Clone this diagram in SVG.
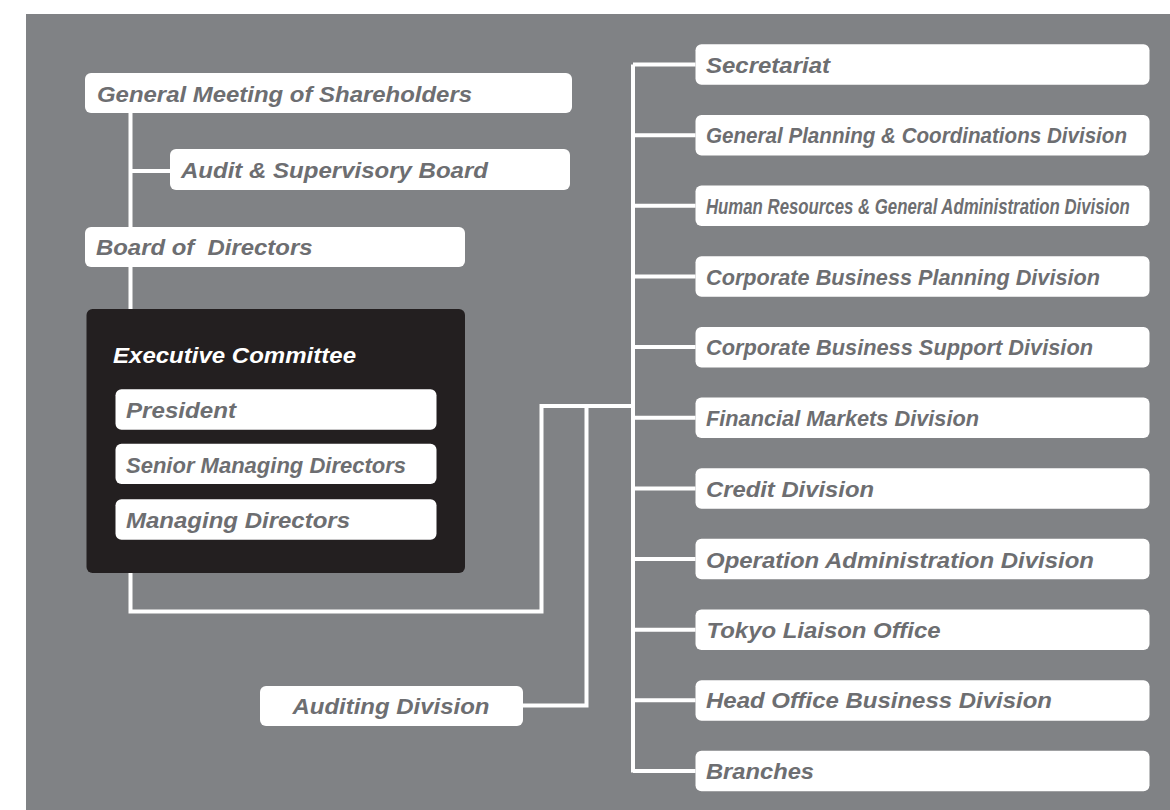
<svg xmlns="http://www.w3.org/2000/svg" width="1170" height="810" viewBox="0 0 1170 810">
  <style>
    .panel { fill: #808285; }
    .box { fill: #ffffff; }
    .exec { fill: #231f20; }
    .lbl { font-family: "Liberation Sans", Arial, Helvetica, sans-serif; font-weight: bold; font-style: italic; font-size: 22px; fill: #6d6e71; }
    .lbl-w { fill: #ffffff; }
    .wire { fill: none; stroke: #ffffff; stroke-width: 4; stroke-linejoin: miter; stroke-linecap: butt; }
  </style>

  <!-- background panel -->
  <rect class="panel" x="26" y="14" width="1144" height="796"/>

  <!-- connectors -->
  <g id="connectors">
    <path class="wire" d="M130.5 113 V611.5 H541.5 V406 H633"/>
    <path class="wire" d="M130.5 171 H170"/>
    <path class="wire" d="M633 64.5 V772.6"/>
    <path class="wire" d="M586.5 406 V705.5 H523"/>
    <path class="wire" d="M633 64.5 H695.5 M633 135.15 H695.5 M633 205.8 H695.5 M633 276.45 H695.5 M633 347.1 H695.5 M633 417.75 H695.5 M633 488.4 H695.5 M633 559.05 H695.5 M633 629.7 H695.5 M633 700.35 H695.5 M633 771 H695.5"/>
  </g>

  <!-- governance column -->
  <g id="general-meeting">
    <rect class="box" x="85" y="73" width="487" height="40" rx="6"/>
    <text class="lbl" x="97" y="101.7" textLength="375" lengthAdjust="spacingAndGlyphs">General Meeting of Shareholders</text>
  </g>
  <g id="audit-board">
    <rect class="box" x="170" y="149" width="400" height="41" rx="6"/>
    <text class="lbl" x="181" y="177.7" textLength="307" lengthAdjust="spacingAndGlyphs">Audit &amp; Supervisory Board</text>
  </g>
  <g id="board-of-directors">
    <rect class="box" x="85" y="227" width="380" height="40" rx="6"/>
    <text class="lbl" x="96" y="255.3" textLength="216.5" lengthAdjust="spacingAndGlyphs" xml:space="preserve">Board of  Directors</text>
  </g>

  <g id="executive-committee">
    <rect class="exec" x="86.5" y="309" width="378.5" height="264" rx="6"/>
    <text class="lbl lbl-w" x="113" y="362.6" textLength="243" lengthAdjust="spacingAndGlyphs">Executive Committee</text>
  </g>
  <g id="president">
    <rect class="box" x="115.5" y="389.3" width="321" height="40.4" rx="6"/>
    <text class="lbl" x="126" y="418.3" textLength="110" lengthAdjust="spacingAndGlyphs">President</text>
  </g>
  <g id="senior-managing-directors">
    <rect class="box" x="115.5" y="443.7" width="321" height="40.4" rx="6"/>
    <text class="lbl" x="126" y="472.7" textLength="280" lengthAdjust="spacingAndGlyphs">Senior Managing Directors</text>
  </g>
  <g id="managing-directors">
    <rect class="box" x="115.5" y="499.3" width="321" height="40.4" rx="6"/>
    <text class="lbl" x="126" y="527.7" textLength="224" lengthAdjust="spacingAndGlyphs">Managing Directors</text>
  </g>

  <g id="auditing-division">
    <rect class="box" x="260" y="686" width="263" height="40" rx="6"/>
    <text class="lbl" x="292.5" y="714.3" textLength="197" lengthAdjust="spacingAndGlyphs">Auditing Division</text>
  </g>

  <!-- divisions column -->
  <g id="secretariat">
    <rect class="box" x="695.5" y="44.3" width="454" height="40.5" rx="6"/>
    <text class="lbl" x="706" y="72.7" textLength="124" lengthAdjust="spacingAndGlyphs">Secretariat</text>
  </g>
  <g id="general-planning">
    <rect class="box" x="695.5" y="114.95" width="454" height="40.5" rx="6"/>
    <text class="lbl" x="706" y="143.3" textLength="421" lengthAdjust="spacingAndGlyphs">General Planning &amp; Coordinations Division</text>
  </g>
  <g id="human-resources">
    <rect class="box" x="695.5" y="185.6" width="454" height="40.5" rx="6"/>
    <!-- long name set in a horizontally condensed run -->
    <text class="lbl" transform="translate(706 214.2) scale(0.762 1)" x="0" y="0" textLength="556" lengthAdjust="spacingAndGlyphs">Human Resources &amp; General Administration Division</text>
  </g>
  <g id="corporate-business-planning">
    <rect class="box" x="695.5" y="256.25" width="454" height="40.5" rx="6"/>
    <text class="lbl" x="706" y="284.8" textLength="394" lengthAdjust="spacingAndGlyphs">Corporate Business Planning Division</text>
  </g>
  <g id="corporate-business-support">
    <rect class="box" x="695.5" y="326.9" width="454" height="40.5" rx="6"/>
    <text class="lbl" x="706" y="355.2" textLength="387" lengthAdjust="spacingAndGlyphs">Corporate Business Support Division</text>
  </g>
  <g id="financial-markets">
    <rect class="box" x="695.5" y="397.55" width="454" height="40.5" rx="6"/>
    <text class="lbl" x="706" y="426" textLength="273" lengthAdjust="spacingAndGlyphs">Financial Markets Division</text>
  </g>
  <g id="credit">
    <rect class="box" x="695.5" y="468.2" width="454" height="40.5" rx="6"/>
    <text class="lbl" x="706" y="496.7" textLength="168" lengthAdjust="spacingAndGlyphs">Credit Division</text>
  </g>
  <g id="operation-administration">
    <rect class="box" x="695.5" y="538.85" width="454" height="40.5" rx="6"/>
    <text class="lbl" x="706" y="567.5" textLength="388" lengthAdjust="spacingAndGlyphs">Operation Administration Division</text>
  </g>
  <g id="tokyo-liaison">
    <rect class="box" x="695.5" y="609.5" width="454" height="40.5" rx="6"/>
    <text class="lbl" x="706.5" y="637.8" textLength="234" lengthAdjust="spacingAndGlyphs">Tokyo Liaison Office</text>
  </g>
  <g id="head-office-business">
    <rect class="box" x="695.5" y="680.15" width="454" height="40.5" rx="6"/>
    <text class="lbl" x="706" y="708.4" textLength="346" lengthAdjust="spacingAndGlyphs">Head Office Business Division</text>
  </g>
  <g id="branches">
    <rect class="box" x="695.5" y="750.8" width="454" height="40.5" rx="6"/>
    <text class="lbl" x="706" y="779" textLength="108" lengthAdjust="spacingAndGlyphs">Branches</text>
  </g>
</svg>
